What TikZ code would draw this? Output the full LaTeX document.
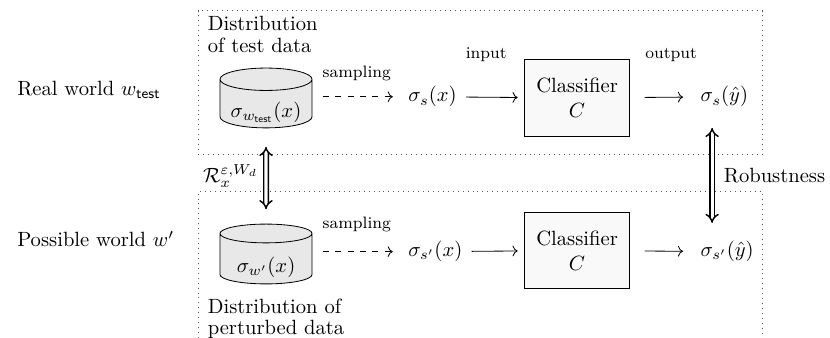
\documentclass[tikz,border=0pt]{standalone}
\usetikzlibrary{positioning,shapes.geometric,arrows.meta}

\begin{document}
\begin{tikzpicture}[font=\normalsize,
    world/.style={anchor=base west},
    db/.style={cylinder, shape border rotate=90, aspect=0.3, draw, fill=gray!18, minimum width=1.57cm, minimum height=1.02cm, inner sep=1pt, text height=12pt, text depth=0pt, anchor=shape center},
    clf/.style={draw, fill=gray!5, minimum width=1.8cm, minimum height=1.3cm, align=center},
    tag/.style={font=\footnotesize},
    caption/.style={anchor=north west, align=left, inner sep=1pt},
    frame/.style={dotted, gray!70!black},
    link/.style={double, line width=0.7pt, double distance=1.5pt, {Implies[scale=1.3]}-{Implies[scale=1.3]}}]
    \useasboundingbox (0,0) rectangle (14.15,5.76);
    % frames of the two worlds
    \draw[frame] (3.376,3.12) rectangle (12.99,5.575);
    \draw[frame] (3.376,0) |- (12.99,2.49) -- (12.99,0);
    % world labels
    \node[world] (real) at (0.17,4.14) {Real world $w_{\mathsf{test}}$};
    \node[world] (poss) at (0.17,1.55) {Possible world $w'$};
    % data sets
    \node[db] (cyl1) at (4.535,4.09) {$\sigma_{w_{\mathsf{test}}}(x)$};
    \node[db] (cyl2) at (4.535,1.43) {$\sigma_{w'}(x)$};
    \node[caption] (cap1) at (3.50,5.53) {Distribution\\[-1pt]of test data};
    \node[caption] (cap2) at (3.50,0.70) {Distribution of\\[-2pt]perturbed data};
    % samples, classifiers, outputs
    \node[anchor=west] (sx1) at (6.837,4.11) {$\sigma_s(x)$};
    \node[anchor=west] (sx2) at (6.837,1.47) {$\sigma_{s'}(x)$};
    \node[clf] (clf1) at (9.838,4.09) {Classifier\\$C$};
    \node[clf] (clf2) at (9.838,1.49) {Classifier\\$C$};
    \node[anchor=west] (yh1) at (11.82,4.11) {$\sigma_s(\hat{y})$};
    \node[anchor=west] (yh2) at (11.82,1.47) {$\sigma_{s'}(\hat{y})$};
    % connectors
    \draw[dashed,->,shorten <=5pt,shorten >=4pt] (cyl1.east |- sx1) -- node[tag,above=4pt] (smp1) {sampling} (sx1);
    \draw[dashed,->,shorten <=5pt,shorten >=4pt] (cyl2.east |- sx2) -- node[tag,above=6pt] (smp2) {sampling} (sx2);
    \draw[->,shorten <=1pt,shorten >=3pt] (sx1) -- (clf1);
    \draw[->,shorten <=1pt,shorten >=3pt] (sx2) -- (clf2);
    \draw[->,shorten <=7pt,shorten >=5pt] (clf1) -- (yh1);
    \draw[->,shorten <=7pt,shorten >=5pt] (clf2) -- (yh2);
    \node[tag] (in1) at (8.29,4.82) {input};
    \node[tag] (out1) at (11.44,4.82) {output};
    \draw[link,shorten <=9pt,shorten >=7pt] (cyl1.south) -- node[left] (dist) {$\mathcal{R}_x^{\varepsilon,W_d}$} (cyl2.north);
    \coordinate (r1) at (12.14,3.58);
    \coordinate (r2) at (12.14,1.96);
    \draw[link] (r1) -- node[right=2pt] (rob) {Robustness} (r2);
\end{tikzpicture}
\end{document}
